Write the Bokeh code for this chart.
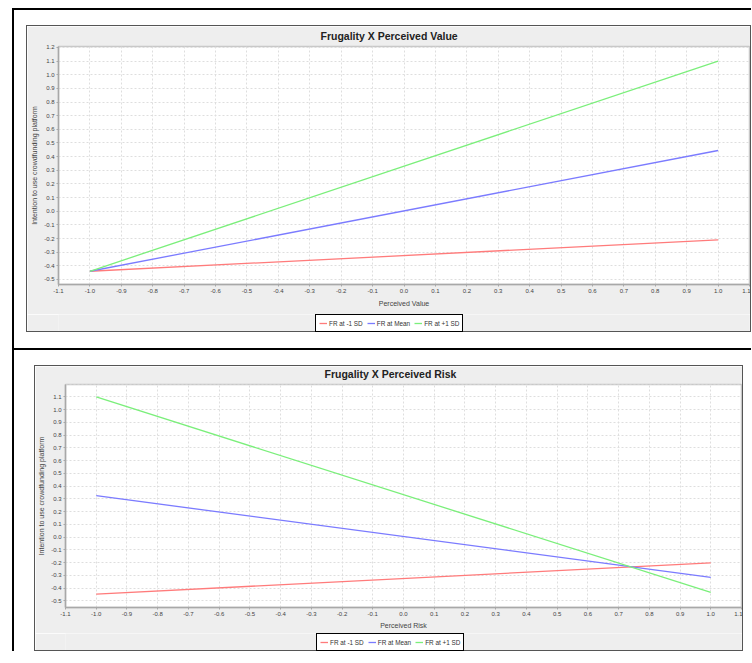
from bokeh.plotting import figure
from bokeh.models import FixedTicker, NumeralTickFormatter, Range1d, Legend, LegendItem, Div, Spacer
from bokeh.layouts import column, row
from bokeh.embed import file_html
from bokeh.resources import INLINE

# ---------------- data ----------------
x_pts = [-1.0, 1.0]

pv_low = [-0.44, -0.21]
pv_mean = [-0.44, 0.445]
pv_high = [-0.44, 1.10]

pr_low = [-0.448, -0.203]
pr_mean = [0.325, -0.316]
pr_high = [1.10, -0.434]

series_names = ["FR at -1 SD", "FR at Mean", "FR at +1 SD"]
series_colors = ["#ff7b7b", "#7b7bff", "#7bef7b"]

x_ticks = [-1.1, -1.0, -0.9, -0.8, -0.7, -0.6, -0.5, -0.4, -0.3, -0.2, -0.1, 0.0,
           0.1, 0.2, 0.3, 0.4, 0.5, 0.6, 0.7, 0.8, 0.9, 1.0, 1.1]
y_ticks = [-0.5, -0.4, -0.3, -0.2, -0.1, 0.0, 0.1, 0.2, 0.3, 0.4, 0.5, 0.6,
           0.7, 0.8, 0.9, 1.0, 1.1, 1.2]

y_label = "Intention to use crowdfunding platform"

FONT = "Liberation Sans"
PANEL_BG = "#eeeeee"
PANEL_EDGE = "1px solid #555555"


def make_panel(title, xlabel, series, yr, w, h_main, h_leg, mb, title_offset,
               title_standoff, xlab_standoff, legend_x):
    left, right, top, bottom = mb
    p = figure(width=w, height=h_main, x_range=Range1d(-1.1, 1.1), y_range=Range1d(*yr),
               output_backend="svg", toolbar_location=None,
               background_fill_color="white", border_fill_color=PANEL_BG,
               min_border_left=left, min_border_right=right,
               min_border_top=top, min_border_bottom=bottom,
               outline_line_color="#c8c8c8", outline_line_width=1.5,
               styles={"border-top": PANEL_EDGE, "border-left": PANEL_EDGE,
                       "border-right": PANEL_EDGE})
    p.title.text = title
    p.title.align = "left"
    p.title.vertical_align = "top"
    p.title.offset = title_offset
    p.title.text_font = FONT
    p.title.text_font_size = "10.5px"
    p.title.text_font_style = "bold"
    p.title.text_color = "#222222"
    p.title.standoff = title_standoff

    for ax in (p.xaxis[0], p.yaxis[0]):
        ax.axis_line_color = "#a8a8a8"
        ax.axis_line_width = 1.5
        ax.major_tick_line_color = "#a8a8a8"
        ax.major_tick_out = 2
        ax.major_tick_in = 0
        ax.minor_tick_line_color = None
        ax.major_label_text_font = FONT
        ax.major_label_text_font_size = "6px"
        ax.major_label_text_color = "#444444"
        ax.major_label_standoff = 2
        ax.axis_label_text_font = FONT
        ax.axis_label_text_font_size = "7px"
        ax.axis_label_text_font_style = "normal"
        ax.axis_label_text_color = "#444444"
        ax.formatter = NumeralTickFormatter(format="0.0")
    p.xaxis[0].ticker = FixedTicker(ticks=x_ticks)
    p.yaxis[0].ticker = FixedTicker(ticks=y_ticks)
    p.xaxis[0].axis_label = xlabel
    p.yaxis[0].axis_label = y_label
    p.xaxis[0].axis_label_standoff = xlab_standoff
    p.yaxis[0].axis_label_standoff = 3

    p.grid.grid_line_color = "#dedede"
    p.grid.grid_line_dash = "2 2"
    p.grid.grid_line_width = 1

    for col, ys in zip(series_colors, series):
        p.line(x_pts, ys, line_color=col, line_width=1.3)

    # legend strip: its own small figure under the chart; the series lines
    # here fall outside its x range, so only the legend shows
    lf = figure(width=w, height=h_leg, x_range=Range1d(5, 6), y_range=Range1d(0, 1),
                output_backend="svg", toolbar_location=None, title=None,
                x_axis_location=None, y_axis_location=None,
                background_fill_color=PANEL_BG, border_fill_color=PANEL_BG,
                outline_line_color=None,
                min_border_left=left, min_border_right=right,
                min_border_top=0, min_border_bottom=0,
                styles={"border-bottom": PANEL_EDGE, "border-left": PANEL_EDGE,
                        "border-right": PANEL_EDGE})
    for g in lf.grid:
        g.visible = False
    items = []
    for name, col, ys in zip(series_names, series_colors, series):
        r = lf.line(x_pts, ys, line_color=col, line_width=1.3)
        items.append(LegendItem(label=name, renderers=[r]))
    legend = Legend(items=items, orientation="horizontal", location=(legend_x, 0),
                    border_line_color="black", border_line_width=1, border_line_alpha=1,
                    background_fill_color="white", background_fill_alpha=1,
                    label_text_font=FONT, label_text_font_size="6.4px",
                    label_text_color="#333333", label_height=10,
                    glyph_width=8, glyph_height=10, label_standoff=2,
                    spacing=4, padding=3, margin=0)
    lf.add_layout(legend, "center")
    return column(p, lf, spacing=0)


box1 = make_panel("Frugality X Perceived Value", "Perceived Value",
                  [pv_low, pv_mean, pv_high], (-0.537, 1.207),
                  725, 289, 18, (31, 3, 20, 31), 262, 5, 4, 257)
box2 = make_panel("Frugality X Perceived Risk", "Perceived Risk",
                  [pr_low, pr_mean, pr_high], (-0.553, 1.198),
                  709, 268, 18, (29, 3, 18, 27), 259, 3.5, 3, 251)

sep = Div(text="", width=737, height=2, margin=(16, 0, 0, 0),
          styles={"background-color": "black"})

root = column(Spacer(height=15),
              row(Spacer(width=12), box1, spacing=0),
              sep,
              Spacer(height=15),
              row(Spacer(width=20), box2, spacing=0),
              spacing=0, margin=(8, 0, 0, 12),
              styles={"border-top": "2px solid black", "border-left": "2px solid black"})

open("out.html", "w").write(file_html(root, INLINE))
